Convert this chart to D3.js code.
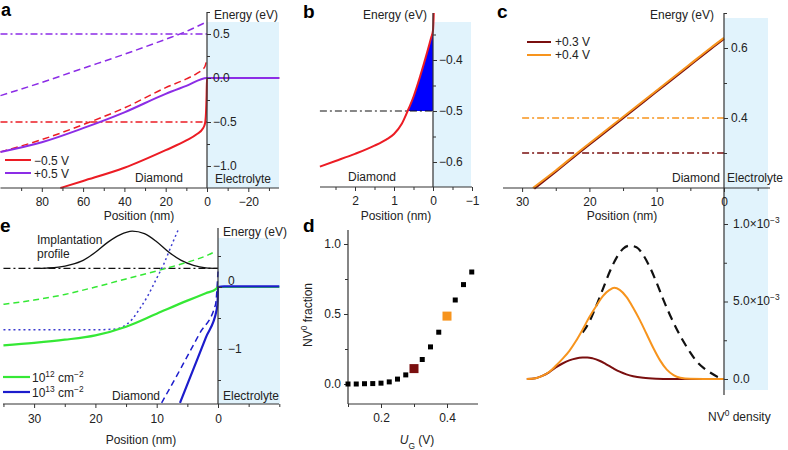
<!DOCTYPE html>
<html><head><meta charset="utf-8">
<script src="https://cdn.jsdelivr.net/npm/d3@7"></script>
<style>
body{margin:0;background:#fff}
svg{font-family:"Liberation Sans",Arial,sans-serif}
</style></head><body>
<svg id="c" width="788" height="450"></svg>
<script>
// ---------- DATA ----------
// Panel a : position (nm), energy (eV)
const aXMajor = [80,60,40,20,0,-20];
const aXMinor = [90,70,50,30,10,-10,-30];
const aYMajor = [0.5,0,-0.5,-1.0];
const aYMinor = [0.75,0.25,-0.25,-0.75];
const aFermiPlus = 0.5, aFermiMinus = -0.5;
const aPlusDashed = [[100,-0.20],[80,-0.05],[60,0.11],[40,0.27],[20,0.44],[10,0.53],[0,0.64]];
const aPlusSolid = [[100,-0.84],[80,-0.73],[60,-0.57],[40,-0.39],[20,-0.18],[10,-0.09],[0,0.0],[-35,0.0]];
const aMinusDashed = [[100,-0.84],[80,-0.70],[60,-0.53],[40,-0.34],[20,-0.11],[10,-0.01],[5,0.05],[2,0.10],[1,0.13],[0,0.22]];
const aMinusSolid = [[71,-1.25],[60,-1.17],[40,-1.02],[20,-0.82],[10,-0.71],[5,-0.64],[2,-0.575],[1,-0.52],[0.5,-0.4],[0.2,-0.2],[0,0],[-35,0]];
// Panel b
const bXMajor = [2,1,0,-1];
const bXMinor = [2.5,1.5,0.5,-0.5];
const bYMajor = [-0.4,-0.5,-0.6];
const bYMinor = [-0.35,-0.45,-0.55];
const bFermi = -0.5;
const bCurve = [[2.9,-0.609],[2.5,-0.598],[2.0,-0.584],[1.5,-0.568],[1.2,-0.556],[1.0,-0.545],[0.8,-0.525],[0.65,-0.5],[0.5,-0.472],[0.33,-0.432],[0.15,-0.385],[0.05,-0.357],[0,-0.342],[-0.02,-0.308]];
// Panel c (upper) energy
const cXMajor = [30,20,10,0];
const cXMinor = [25,15,5,-5];
const cYMajor = [0.6,0.4];
const cYMinor = [0.7,0.5,0.3];
const cFermi03 = 0.3, cFermi04 = 0.4;
const cBand03 = [[28.2,0.198],[25,0.247],[21.8,0.297],[18.5,0.347],[15.2,0.397],[11.9,0.447],[8.6,0.497],[5.3,0.547],[2,0.597],[0,0.626]];
const cBand04 = [[28.4,0.2],[25,0.25],[21.8,0.3],[18.5,0.35],[15.2,0.4],[11.9,0.45],[8.6,0.5],[5.3,0.55],[2,0.6],[0,0.629]];
// Panel c (lower) NV0 density (x1e-3)
const cDensMajor = [1.0,0.5,0.0];
const cDensMinor = [0.75,0.25];
const cImplant = [[21,0.30],[20,0.37],[19,0.47],[18,0.58],[17,0.69],[16,0.78],[15,0.84],[14,0.86],[13,0.85],[12,0.80],[11,0.72],[10,0.62],[9,0.51],[8,0.41],[7,0.32],[6,0.24],[5,0.17],[4,0.11],[3,0.07],[2,0.04],[1,0.015],[0,0.0]];
const cNV04 = [[29.3,0],[28,0.005],[27,0.02],[26,0.045],[25,0.085],[24,0.13],[23,0.18],[22,0.245],[21,0.32],[20,0.40],[19,0.47],[18,0.535],[17,0.575],[16.3,0.588],[15.5,0.575],[14.5,0.53],[13.5,0.46],[12.5,0.38],[11.5,0.29],[10.5,0.20],[9.5,0.12],[8.5,0.06],[7.5,0.025],[6.5,0.008],[5,0.001],[3,0],[0,0]];
const cNV03 = [[29.3,0],[28,0.005],[27,0.02],[26,0.043],[25,0.075],[24,0.10],[23,0.12],[22,0.132],[21,0.138],[20.3,0.139],[19.5,0.133],[18.5,0.118],[17.5,0.095],[16.5,0.07],[15.5,0.047],[14.5,0.03],[13.5,0.018],[12,0.008],[10,0.002],[8,0],[0,0]];
// Panel d
const dU = [0.1,0.125,0.15,0.175,0.2,0.225,0.25,0.275,0.3,0.325,0.35,0.375,0.4,0.425,0.45,0.475];
const dFrac = [0.0,0.0,0.002,0.003,0.006,0.015,0.035,0.065,0.11,0.175,0.265,0.37,0.485,0.60,0.71,0.80];
const dHighlight = [[0.3,0.11,"#7a0f0f"],[0.4,0.485,"#f7941d"]];
const dXMajor = [0.2,0.4], dXMinor = [0.1,0.3];
const dYMajor = [1.0,0.5,0.0], dYMinor = [0.75,0.25];
// Panel e
const eXMajor = [30,20,10,0];
const eXMinor = [35,25,15,5,-5,-10];
const eYMajor = [0,-1];
const eYMinor = [0.5,-0.5,-1.5];
const eFermi = 0.3;
const eImplant = [[30,0.3],[28,0.305],[26,0.32],[24,0.36],[22,0.43],[20,0.56],[18,0.72],[16,0.84],[14,0.9],[12,0.86],[10,0.73],[8,0.56],[6,0.43],[4,0.35],[2,0.31],[0,0.3]];
const eGreenDashed = [[35,-0.28],[30,-0.21],[25,-0.12],[20,0.0],[15,0.13],[10,0.26],[5,0.40],[2,0.5],[0.5,0.57]];
const eGreenSolid = [[35,-0.94],[30,-0.90],[25,-0.85],[20,-0.78],[15,-0.64],[10,-0.43],[5,-0.22],[2,-0.1],[0.3,-0.03],[0,0],[-10,0]];
const eBlueDotted = [[35,-0.69],[25,-0.69],[20,-0.69],[17,-0.68],[15.5,-0.64],[14,-0.52],[12.7,-0.34],[11.5,-0.15],[10,0.14],[8.8,0.38],[7.8,0.62],[6.5,0.92]];
const eBlueDashed = [[9.2,-1.87],[6,-1.3],[3,-0.75],[0.4,-0.28],[0,0.25]];
const eBlueSolid = [[6.2,-1.87],[4,-1.32],[2,-0.82],[0.2,-0.36],[0.05,-0.2],[0,0],[-1,0.01],[-10,0.01]];

// ---------- DRAW ----------
const svg = d3.select("#c");
const FONT = "Liberation Sans, Arial, sans-serif";
const AX = "#333";
const SHADE = "#e1f3fc";
const RED = "#ec1c24", PURPLE = "#8c2de6", DRED = "#7a0f0f", ORANGE = "#f7941d";
const GREEN = "#35e835", BLUE = "#1c1ccc";

function lin(v1,p1,v2,p2,pa,pb){
  const s = d3.scaleLinear().domain([v1,v2]).range([p1,p2]);
  return d3.scaleLinear().domain([s.invert(pa), s.invert(pb)]).range([pa,pb]);
}
const fmtNum = d => (d<0?"\u2212":"") + Math.abs(d).toFixed(1);
const fmtInt = d => (d<0?"\u2212":"") + Math.abs(d);

function addAxis(scale, orient, pos, majors, minors, fmt, pad){
  const mk = {bottom:d3.axisBottom, left:d3.axisLeft, right:d3.axisRight}[orient];
  const tr = orient==="bottom" ? `translate(0,${pos})` : `translate(${pos},0)`;
  const g1 = svg.append("g").attr("transform",tr).call(mk(scale).tickValues(minors).tickSize(3).tickFormat(""));
  const g2 = svg.append("g").attr("transform",tr).call(mk(scale).tickValues(majors).tickSize(4).tickPadding(pad).tickFormat(fmt));
  [g1,g2].forEach(g=>{
    g.select(".domain").remove();
    g.attr("font-family",FONT).attr("font-size",12);
    g.selectAll("line").attr("stroke",AX);
    g.selectAll("text").attr("fill","#222");
  });
  return g2;
}
function hline(x1,x2,y){svg.append("line").attr("x1",x1).attr("x2",x2).attr("y1",y).attr("y2",y).attr("stroke",AX).attr("stroke-width",1.2);}
function vline(x,y1,y2){svg.append("line").attr("x1",x).attr("x2",x).attr("y1",y1).attr("y2",y2).attr("stroke",AX).attr("stroke-width",1.2);}
function shade(x1,x2,y1,y2){svg.append("rect").attr("x",x1).attr("y",y1).attr("width",x2-x1).attr("height",y2-y1).attr("fill",SHADE);}
function text(x,y,str,opts={}){
  return svg.append("text").attr("x",x).attr("y",y).attr("font-family",FONT)
    .attr("font-size",opts.size||12).attr("font-weight",opts.bold?"bold":null)
    .attr("text-anchor",opts.anchor||"start").attr("fill",opts.fill||"#222").text(str);
}
function rich(x,y,parts,opts={}){
  const t = svg.append("text").attr("x",x).attr("y",y).attr("font-family",FONT)
    .attr("font-size",opts.size||12).attr("text-anchor",opts.anchor||"start").attr("fill","#222");
  if(opts.rotate) t.attr("transform",`rotate(${opts.rotate},${x},${y})`);
  parts.forEach(([s,k])=>{
    const ts = t.append("tspan").text(s);
    if(k==="sup") ts.attr("font-size",(opts.size||12)*0.7).attr("baseline-shift","super");
    if(k==="sub") ts.attr("font-size",(opts.size||12)*0.7).attr("baseline-shift","sub");
    if(k==="i") ts.attr("font-style","italic");
  });
  return t;
}
function path(data,x,y,color,w,dash){
  svg.append("path").datum(data).attr("fill","none").attr("stroke",color).attr("stroke-width",w)
    .attr("stroke-dasharray",dash||null).attr("stroke-linejoin","round")
    .attr("d",d3.line().x(d=>x(d[0])).y(d=>y(d[1])).curve(d3.curveMonotoneX));
}
const DASHDOT = "7,3,2,3";

// ===== Panel a =====
{
  const x = lin(0,207,20,165.7,0.5,279);
  const y = lin(0,78,-1,166,188,12);
  shade(207,279,22,188);
  path([[100,aFermiPlus],[0,aFermiPlus]],x,y,PURPLE,1.3,DASHDOT);
  path([[100,aFermiMinus],[0,aFermiMinus]],x,y,RED,1.3,DASHDOT);
  path(aPlusDashed,x,y,PURPLE,1.5,"7,4");
  path(aMinusDashed,x,y,RED,1.5,"7,4");
  path(aMinusSolid,x,y,RED,2);
  path(aPlusSolid,x,y,PURPLE,2);
  hline(0.5,279,188); vline(207,12,188);
  addAxis(x,"bottom",188,aXMajor,aXMinor,fmtInt,5);
  addAxis(y,"right",207,aYMajor,aYMinor,fmtNum,2);
  text(1,16,"a",{size:18,bold:true,fill:"#000"});
  text(214,19,"Energy (eV)");
  text(183,182,"Diamond",{anchor:"end"});
  text(215,183,"Electrolyte");
  text(139,220,"Position (nm)",{anchor:"middle"});
  svg.append("line").attr("x1",5).attr("x2",31).attr("y1",160).attr("y2",160).attr("stroke",RED).attr("stroke-width",2);
  svg.append("line").attr("x1",5).attr("x2",31).attr("y1",173).attr("y2",173).attr("stroke",PURPLE).attr("stroke-width",2);
  text(34,164.5,"\u22120.5 V");
  text(34,177.5,"+0.5 V");
}
// ===== Panel b =====
{
  const x = lin(0,433,1,394,320,472);
  const y = lin(-0.4,60,-0.5,111,187,13);
  shade(433,471,22,187);
  const fillPts = bCurve.filter(d=>d[0]<=0.65 && d[0]>=0);
  svg.append("path").datum(fillPts).attr("fill","#0000ff")
    .attr("d",d3.area().x(d=>x(d[0])).y0(y(bFermi)).y1(d=>y(d[1])).curve(d3.curveMonotoneX));
  path([[2.9,bFermi],[0,bFermi]],x,y,"#111",1.2,DASHDOT);
  path(bCurve,x,y,RED,2);
  hline(320,472,187); vline(433,13,187);
  addAxis(x,"bottom",187,bXMajor,bXMinor,fmtInt,5);
  addAxis(y,"right",433,bYMajor,bYMinor,fmtNum,2);
  text(303,18,"b",{size:19,bold:true,fill:"#000"});
  text(427,19,"Energy (eV)",{anchor:"end"});
  text(372,181,"Diamond",{anchor:"middle"});
  text(396,220,"Position (nm)",{anchor:"middle"});
}
// ===== Panel c =====
{
  const x = lin(0,724,10,656.7,503,770);
  const y = lin(0.4,118,0.6,48,188,13);
  const yd = lin(0,379,1,224,395,190);
  shade(724,768,18,390);
  path([[30,cFermi04],[0,cFermi04]],x,y,ORANGE,1.3,DASHDOT);
  path([[30,cFermi03],[0,cFermi03]],x,y,DRED,1.3,DASHDOT);
  path(cBand03,x,y,DRED,2.2);
  path(cBand04,x,y,ORANGE,2);
  // density
  path(cImplant,x,yd,"#111",2.2,"9,6");
  path(cNV03,x,yd,DRED,2);
  path(cNV04,x,yd,ORANGE,2);
  hline(503,770,188); vline(724,13,395);
  addAxis(x,"bottom",188,cXMajor,cXMinor,fmtInt,5);
  addAxis(y,"right",724,cYMajor,cYMinor,fmtNum,3);
  addAxis(yd,"right",724,cDensMajor,cDensMinor,()=> "",3);
  rich(733,228,[["1.0\u00d710"],["\u22123","sup"]]);
  rich(733,305,[["5.0\u00d710"],["\u22123","sup"]]);
  text(733,383,"0.0");
  text(497,18,"c",{size:19,bold:true,fill:"#000"});
  text(714,19,"Energy (eV)",{anchor:"end"});
  text(720,182,"Diamond",{anchor:"end"});
  text(727,182,"Electrolyte");
  text(622,220,"Position (nm)",{anchor:"middle"});
  rich(708,421,[["NV"],["0","sup"],[" density"]]);
  svg.append("line").attr("x1",527).attr("x2",551).attr("y1",42).attr("y2",42).attr("stroke",DRED).attr("stroke-width",2);
  svg.append("line").attr("x1",527).attr("x2",551).attr("y1",55).attr("y2",55).attr("stroke",ORANGE).attr("stroke-width",2);
  text(555,46,"+0.3 V");
  text(555,59,"+0.4 V");
}
// ===== Panel d =====
{
  const x = lin(0.1,348,0.4,447,348,478);
  const y = lin(0,384,1,244,404,230);
  vline(348,230,404); hline(348,478,404);
  addAxis(x,"bottom",404,dXMajor,dXMinor,d=>d.toFixed(1),5);
  addAxis(y,"left",348,dYMajor,dYMinor,d=>d.toFixed(1),3);
  svg.append("g").selectAll("rect").data(dU.map((u,i)=>[u,dFrac[i]])).join("rect")
    .attr("x",d=>x(d[0])-2.5).attr("y",d=>y(d[1])-2.5).attr("width",5).attr("height",5).attr("fill","#000");
  svg.append("g").selectAll("rect").data(dHighlight).join("rect")
    .attr("x",d=>x(d[0])-4.5).attr("y",d=>y(d[1])-4.5).attr("width",9).attr("height",9).attr("fill",d=>d[2]);
  text(303,232,"d",{size:19,bold:true,fill:"#000"});
  rich(312,315,[["NV"],["0","sup"],[" fraction"]],{anchor:"middle",rotate:-90});
  rich(417,444,[["U","i"],["G","sub"],[" (V)"]],{anchor:"middle"});
}
// ===== Panel e =====
{
  const x = lin(0,218,10,156.7,3.5,279);
  const y = lin(0,287,-1,349,404,228);
  shade(218,280,238,404);
  path(eImplant,x,y,"#111",1.3);
  path([[35,eFermi],[0,eFermi]],x,y,"#111",1.3,DASHDOT);
  path(eGreenDashed,x,y,GREEN,1.5,"6,4");
  path(eBlueDotted,x,y,"#3a3ad0",1.5,"2,3");
  path(eBlueDashed,x,y,BLUE,1.5,"6,4");
  path(eGreenSolid,x,y,GREEN,2.2);
  path(eBlueSolid,x,y,BLUE,2.2);
  hline(3,279,404); vline(218,228,404);
  addAxis(x,"bottom",404,eXMajor,eXMinor,fmtInt,6);
  const gy = addAxis(y,"right",218,eYMajor,eYMinor,fmtInt,6);
  gy.selectAll("text").filter(d=>d===0).attr("y",-6);
  text(0,232,"e",{size:19,bold:true,fill:"#000"});
  text(223,236,"Energy (eV)");
  text(37,244,"Implantation");
  text(37,258,"profile");
  text(160,400,"Diamond",{anchor:"end"});
  text(223,400,"Electrolyte");
  text(141,444,"Position (nm)",{anchor:"middle"});
  svg.append("line").attr("x1",3).attr("x2",30).attr("y1",377).attr("y2",377).attr("stroke",GREEN).attr("stroke-width",2.2);
  svg.append("line").attr("x1",3).attr("x2",30).attr("y1",392).attr("y2",392).attr("stroke",BLUE).attr("stroke-width",2.2);
  rich(32,381.5,[["10"],["12","sup"],[" cm"],["\u22122","sup"]]);
  rich(32,396.5,[["10"],["13","sup"],[" cm"],["\u22122","sup"]]);
}
</script>
</body></html>
